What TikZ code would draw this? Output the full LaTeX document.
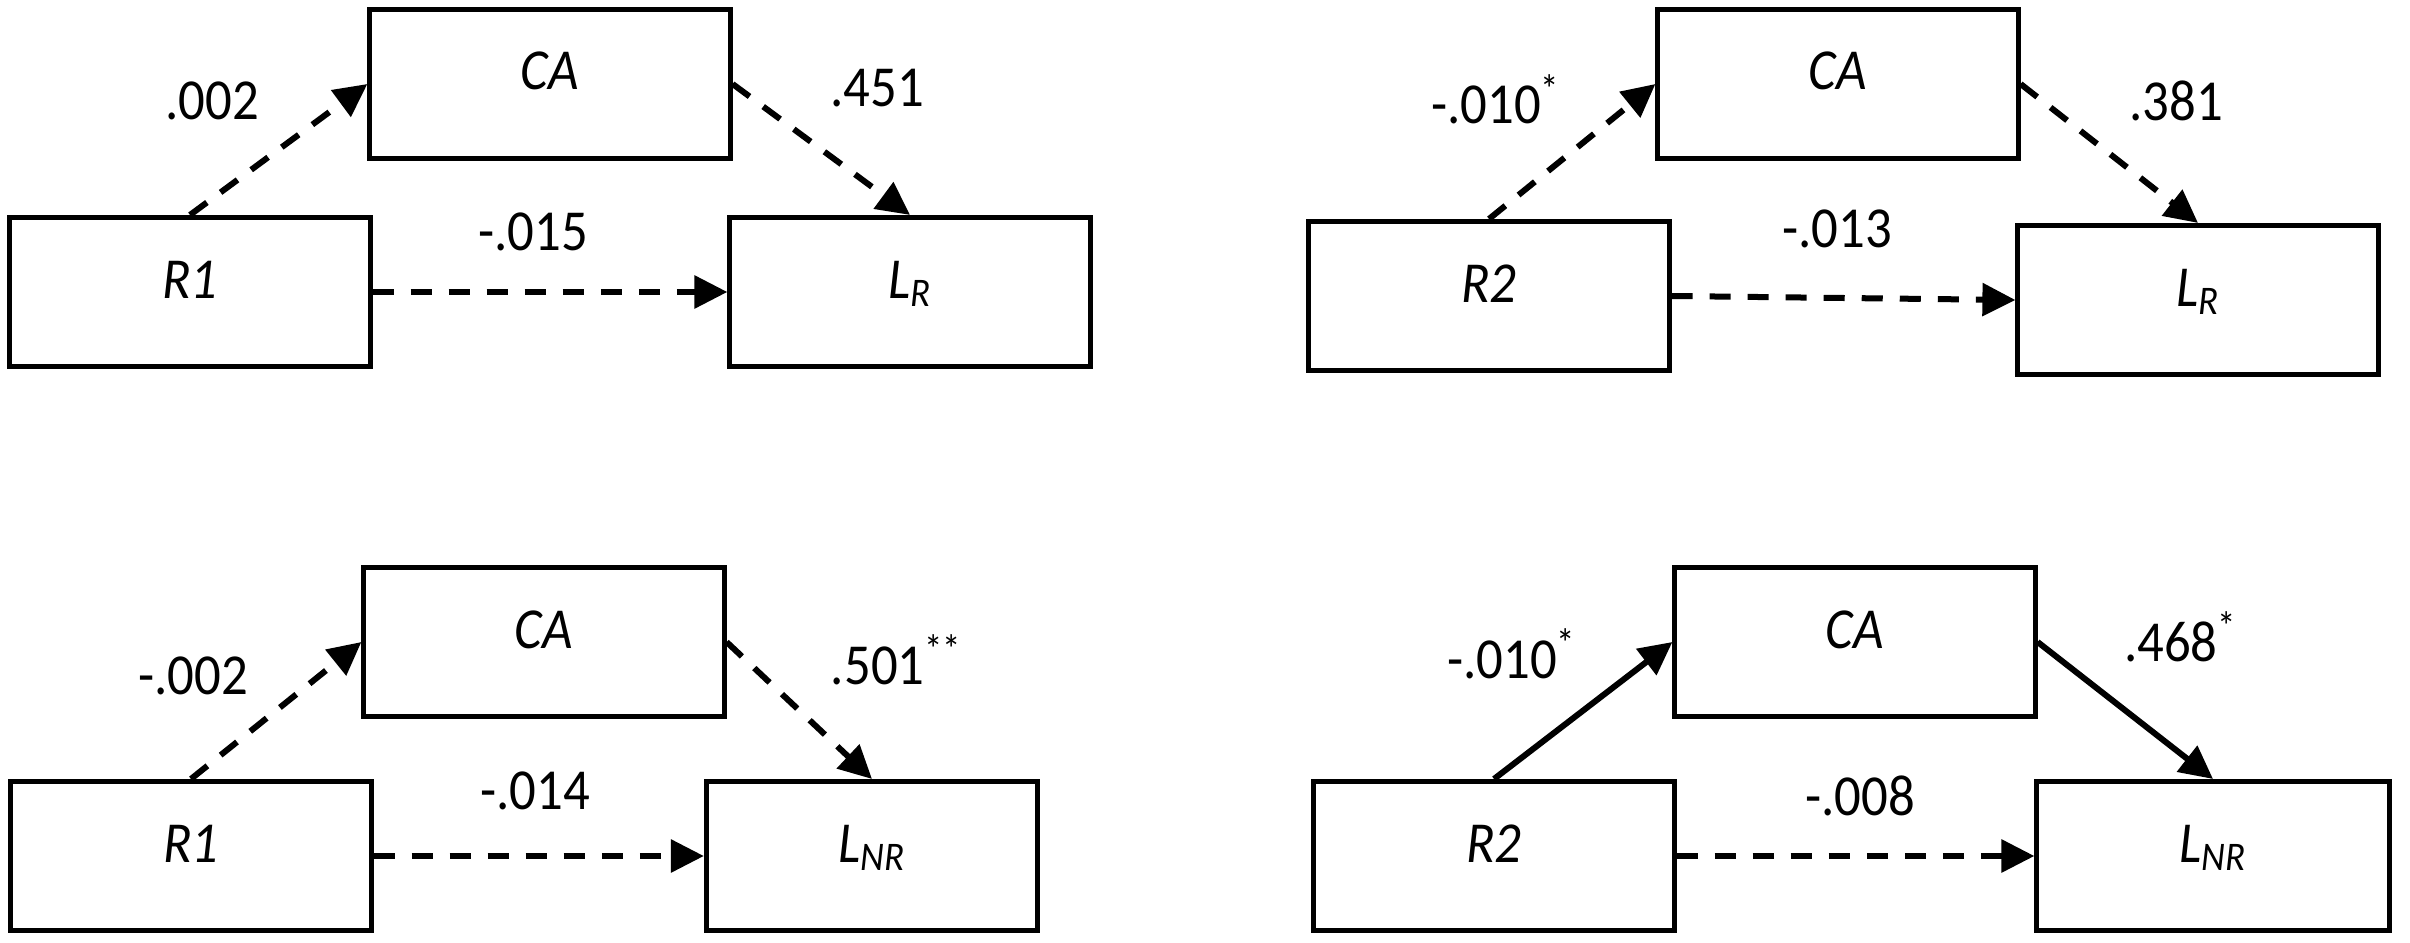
\documentclass[tikz,border=0pt]{standalone}
\usepackage{fontspec}
\setmainfont{Carlito}
\usetikzlibrary{arrows.meta}
\newcommand{\tallt}[1]{\scalebox{1}[1.1]{#1}}

\begin{document}
\begin{tikzpicture}[x=0.01cm, y=-0.01cm,
  box/.style={draw, line width=0.05cm, minimum width=3.6cm, minimum height=1.49cm,
    text height=0.37cm, text depth=0.25cm, font=\fontsize{15}{18}\selectfont\itshape},
  coef/.style={anchor=base, inner sep=0pt, font=\fontsize{15}{18}\selectfont},
  arr/.style={line width=0.06cm, -{Triangle[length=0.33cm,width=0.32cm]}},
  dasharr/.style={arr, dash pattern=on 0.21cm off 0.17cm}]
\useasboundingbox (0,0) rectangle (2410,943);
% R1 -> L_R
\node[box] (r1a) at (190,292){\tallt{R1}};
\node[box] (caa) at (550,84){\tallt{CA}};
\node[box] (lra) at (910,292){\tallt{L\textsubscript{R}}};
\draw[dasharr](r1a.north) -- (caa.west);
\draw[dasharr](caa.east) -- (lra.north);
\draw[dasharr](r1a.east) -- (lra.west);
\node[coef] (pa1) at (212,120){\tallt{.002}};
\node[coef] (pa2) at (877,107){\tallt{.451}};
\node[coef] (pa3) at (533,251){\tallt{-.015}};
% R2 -> L_R
\node[box] (r2b) at (1489,296){\tallt{R2}};
\node[box] (cab) at (1838,84){\tallt{CA}};
\node[box] (lrb) at (2198,300){\tallt{L\textsubscript{R}}};
\draw[dasharr](r2b.north) -- (cab.west);
\draw[dasharr](cab.east) -- (lrb.north);
\draw[dasharr](r2b.east) -- (lrb.west);
\node[coef] (pb1) at (1496,124){\tallt{-.010\textsuperscript{*}}};
\node[coef] (pb2) at (2176,121){\tallt{.381}};
\node[coef] (pb3) at (1837,248){\tallt{-.013}};
% R1 -> L_NR
\node[box] (r1c) at (191,856){\tallt{R1}};
\node[box] (cac) at (544,642){\tallt{CA}};
\node[box, minimum width=3.31cm] (lnc) at (872,856){\tallt{L\textsubscript{NR}}};
\draw[dasharr](r1c.north) -- (cac.west);
\draw[dasharr](cac.east) -- (lnc.north);
\draw[dasharr](r1c.east) -- (lnc.west);
\node[coef] (pc1) at (193,694){\tallt{-.002}};
\node[coef] (pc2) at (897,684){\tallt{.501\textsuperscript{**}}};
\node[coef] (pc3) at (535,809){\tallt{-.014}};
% R2 -> L_NR
\node[box] (r2d) at (1494,856){\tallt{R2}};
\node[box] (cad) at (1855,642){\tallt{CA}};
\node[box, minimum width=3.52cm] (lnd) at (2213,856){\tallt{L\textsubscript{NR}}};
\draw[arr](r2d.north) -- (cad.west);
\draw[arr](cad.east) -- (lnd.north);
\draw[dasharr](r2d.east) -- (lnd.west);
\node[coef] (pd1) at (1512,678){\tallt{-.010\textsuperscript{*}}};
\node[coef] (pd2) at (2181,661){\tallt{.468\textsuperscript{*}}};
\node[coef] (pd3) at (1860,815){\tallt{-.008}};
\end{tikzpicture}
\end{document}
